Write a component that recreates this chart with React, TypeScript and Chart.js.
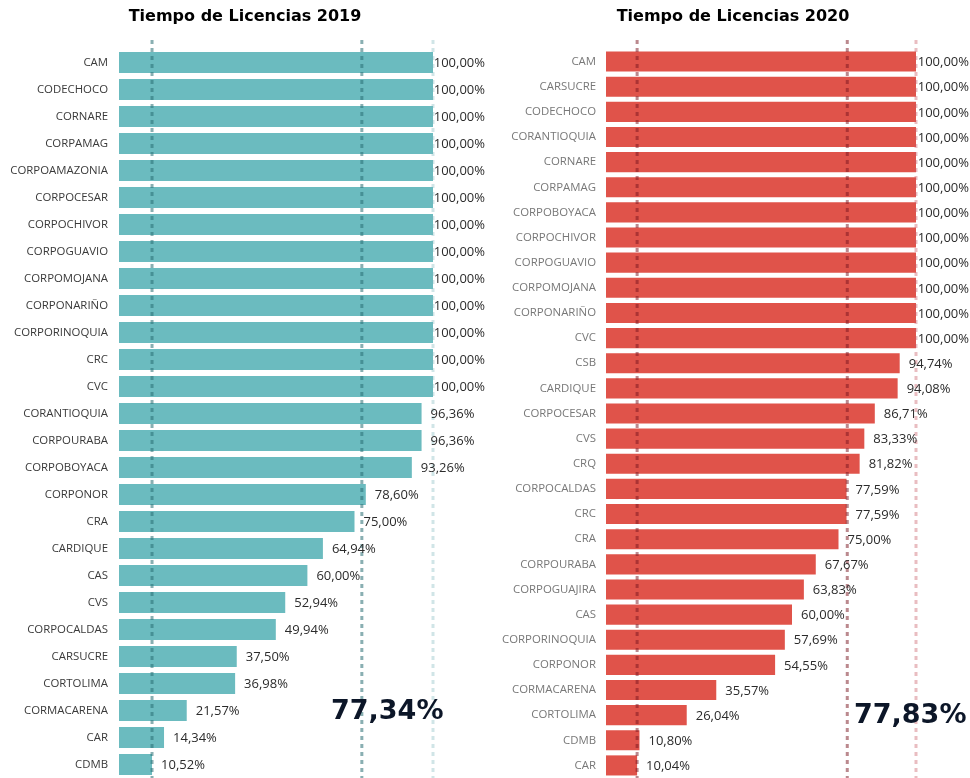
import React, { useEffect, useRef } from "react";
import { Chart, registerables } from "chart.js";
Chart.register(...registerables);

const categories2019 = [
  "CAM", "CODECHOCO", "CORNARE", "CORPAMAG", "CORPOAMAZONIA", "CORPOCESAR", "CORPOCHIVOR",
  "CORPOGUAVIO", "CORPOMOJANA", "CORPONARIÑO", "CORPORINOQUIA", "CRC", "CVC", "CORANTIOQUIA",
  "CORPOURABA", "CORPOBOYACA", "CORPONOR", "CRA", "CARDIQUE", "CAS", "CVS", "CORPOCALDAS",
  "CARSUCRE", "CORTOLIMA", "CORMACARENA", "CAR", "CDMB",
];
const values2019 = [
  100, 100, 100, 100, 100, 100, 100, 100, 100, 100, 100, 100, 100, 96.36, 96.36, 93.26, 78.6, 75.0,
  64.94, 60.0, 52.94, 49.94, 37.5, 36.98, 21.57, 14.34, 10.52,
];
const categories2020 = [
  "CAM", "CARSUCRE", "CODECHOCO", "CORANTIOQUIA", "CORNARE", "CORPAMAG", "CORPOBOYACA",
  "CORPOCHIVOR", "CORPOGUAVIO", "CORPOMOJANA", "CORPONARIÑO", "CVC", "CSB", "CARDIQUE",
  "CORPOCESAR", "CVS", "CRQ", "CORPOCALDAS", "CRC", "CRA", "CORPOURABA", "CORPOGUAJIRA", "CAS",
  "CORPORINOQUIA", "CORPONOR", "CORMACARENA", "CORTOLIMA", "CDMB", "CAR",
];
const values2020 = [
  100, 100, 100, 100, 100, 100, 100, 100, 100, 100, 100, 100, 94.74, 94.08, 86.71, 83.33, 81.82,
  77.59, 77.59, 75.0, 67.67, 63.83, 60.0, 57.69, 54.55, 35.57, 26.04, 10.8, 10.04,
];
const average2019 = 77.34;
const average2020 = 77.83;
const title2019 = "Tiempo de Licencias 2019";
const title2020 = "Tiempo de Licencias 2020";

const fmt = (v: number) => v.toFixed(2).replace(".", ",") + "%";

type PanelProps = {
  labels: string[];
  values: number[];
  avg: number;
  color: string;
  lineDark: string;
  lineLight: string;
  labelColor: string;
  width: number;
  height: number;
  axisWidth: number;
  tickPad: number;
  padRight: number;
  barPct: number;
};

function BarPanel(p: PanelProps) {
  const ref = useRef<HTMLCanvasElement>(null);
  useEffect(() => {
    if (!ref.current) return;
    const min = Math.min(...p.values);
    const max = Math.max(...p.values);
    const refPlugin = {
      id: "refLines",
      afterDatasetsDraw(chart: any) {
        const { ctx, chartArea } = chart;
        const x = chart.scales.x;
        ctx.save();
        ctx.lineWidth = 3;
        ctx.setLineDash([4, 4]);
        const lines: [number, string][] = [
          [max, p.lineLight],
          [min, p.lineDark],
          [p.avg, p.lineDark],
        ];
        for (const [v, c] of lines) {
          const px = x.getPixelForValue(v);
          ctx.strokeStyle = c;
          ctx.beginPath();
          ctx.moveTo(px, chartArea.top - 9);
          ctx.lineTo(px, chartArea.bottom + 2);
          ctx.stroke();
        }
        ctx.setLineDash([]);
        ctx.font = '13px "Open Sans"';
        ctx.fillStyle = "#2b2b2b";
        ctx.textBaseline = "middle";
        ctx.textAlign = "left";
        const meta = chart.getDatasetMeta(0);
        meta.data.forEach((bar: any, i: number) => {
          const t = fmt(p.values[i]);
          const tw = ctx.measureText(t).width;
          const xx = Math.min(bar.x + 9, chart.width - tw - 1);
          ctx.fillText(t, xx, bar.y + 1);
        });
        ctx.restore();
      },
    };
    const chart = new Chart(ref.current, {
      type: "bar",
      data: {
        labels: p.labels,
        datasets: [
          {
            data: p.values,
            backgroundColor: p.color,
            borderWidth: 0,
            categoryPercentage: 1,
            barPercentage: p.barPct,
          },
        ],
      },
      options: {
        indexAxis: "y",
        animation: false,
        responsive: false,
        maintainAspectRatio: false,
        layout: { padding: { top: 49, right: p.padRight, bottom: 0, left: 0 } },
        plugins: { legend: { display: false }, tooltip: { enabled: false }, title: { display: false } },
        scales: {
          x: { display: false, min: 0, max: 100 },
          y: {
            grid: { display: false, drawTicks: false },
            border: { display: false },
            ticks: {
              padding: p.tickPad,
              color: p.labelColor,
              font: { family: '"Open Sans"', size: 11.4 },
              autoSkip: false,
            },
            afterFit: (scale: any) => {
              scale.width = p.axisWidth;
              scale.paddingTop = 0;
              scale.paddingBottom = 0;
            },
          },
        },
      },
      plugins: [refPlugin],
    } as any);
    return () => chart.destroy();
  }, []);
  return <canvas ref={ref} width={p.width} height={p.height} style={{ display: "block" }} />;
}

export default function App() {
  const titleStyle: React.CSSProperties = {
    position: "absolute",
    top: 6,
    width: 490,
    textAlign: "center",
    font: 'bold 16px "DejaVu Sans", sans-serif',
    lineHeight: "20px",
    color: "#000",
  };
  const bigStyle: React.CSSProperties = {
    position: "absolute",
    font: 'bold 27px "DejaVu Sans", sans-serif',
    lineHeight: "27px",
    color: "#0c1628",
    whiteSpace: "nowrap",
  };
  return (
    <div style={{ position: "absolute", left: 0, top: 0, width: 970, height: 778, background: "#fff", overflow: "hidden" }}>
      <div style={{ position: "absolute", left: 0, top: 0 }}>
        <BarPanel
          labels={categories2019}
          values={values2019}
          avg={average2019}
          color="#6bbbbf"
          lineDark="rgba(40,110,115,0.55)"
          lineLight="rgba(120,180,185,0.35)"
          labelColor="#3a3a3a"
          width={486}
          height={778}
          axisWidth={119}
          tickPad={11}
          padRight={53}
          barPct={0.78}
        />
      </div>
      <div style={{ position: "absolute", left: 490, top: 0 }}>
        <BarPanel
          labels={categories2020}
          values={values2020}
          avg={average2020}
          color="#e0534a"
          lineDark="rgba(120,20,30,0.5)"
          lineLight="rgba(200,90,100,0.4)"
          labelColor="#787878"
          width={480}
          height={778}
          axisWidth={116}
          tickPad={10}
          padRight={54}
          barPct={0.8}
        />
      </div>
      <div style={{ ...titleStyle, left: 0 }}>{title2019}</div>
      <div style={{ ...titleStyle, left: 488 }}>{title2020}</div>
      <div style={{ ...bigStyle, left: 331, top: 696 }}>{fmt(average2019)}</div>
      <div style={{ ...bigStyle, left: 854, top: 700 }}>{fmt(average2020)}</div>
    </div>
  );
}
